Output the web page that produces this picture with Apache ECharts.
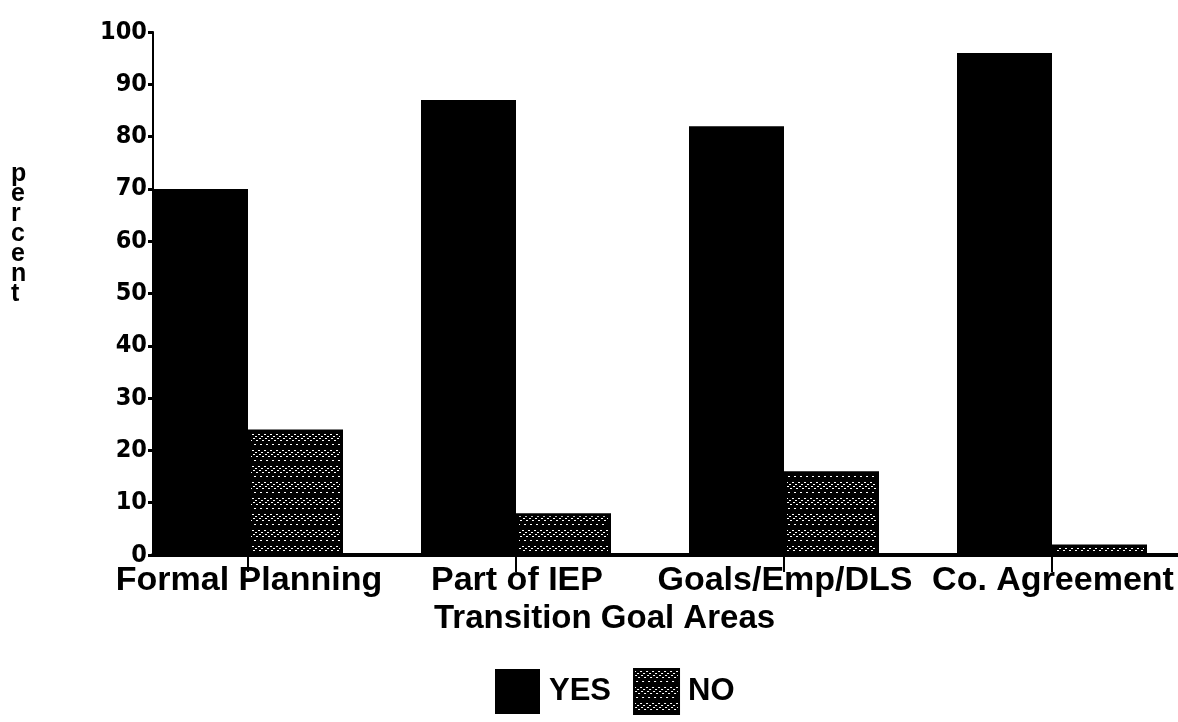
<!DOCTYPE html>
<html>
<head>
<meta charset="utf-8">
<title>Transition Goal Areas</title>
<script src="https://cdn.jsdelivr.net/npm/echarts@6/dist/echarts.min.js"></script>
<style>
  html, body { margin: 0; padding: 0; background: #fff; }
  #chart { width: 1178px; height: 722px; }
</style>
</head>
<body>
<div id="chart"></div>
<script>
// data
var categories = ['Formal Planning', 'Part of IEP', 'Goals/Emp/DLS', 'Co. Agreement'];
var yesValues = [70, 87, 82, 96];
var noValues = [24, 8, 16, 2];
var blankValues = [0, 0, 0, 0]; // empty third slot in every group
var seriesNames = ['YES', 'NO'];

var labelFont = 'Liberation Sans';
var digitFont = "'DejaVu Sans Condensed', sans-serif";
var yesBarWidth = 95;

// sparse dithered fill of the NO bars
function makeHatch() {
    var c = document.createElement('canvas');
    c.width = 12;
    c.height = 16;
    var g = c.getContext('2d');
    g.fillStyle = '#000';
    g.fillRect(0, 0, 12, 16);
    g.fillStyle = '#fff';
    var dots = [[0, 2], [6, 2], [3, 4], [9, 4], [1, 6], [7, 6], [4, 8], [10, 8],
                [2, 12], [8, 12]];
    dots.forEach(function (d) { g.fillRect(d[0], d[1], 2, 1); });
    return c;
}
var hatch = { image: makeHatch(), repeat: 'repeat' };

var chart = echarts.init(document.getElementById('chart'));
chart.setOption({
    animation: false,
    backgroundColor: '#fff',
    grid: { left: 153, right: -47, top: 32, bottom: 167, outerBoundsMode: 'none' },
    legend: {
        data: seriesNames,
        left: 490,
        bottom: 2,
        itemWidth: 45,
        itemHeight: 45,
        itemGap: 22,
        icon: 'rect',
        textStyle: { fontFamily: labelFont, fontWeight: 'bold', fontSize: 31, color: '#000', padding: [0, 0, 0, 4] }
    },
    graphic: [
        {
            type: 'text', left: 11, top: 162,
            style: {
                text: 'p\ne\nr\nc\ne\nn\nt',
                font: 'bold 25px ' + labelFont,
                lineHeight: 20,
                align: 'center',
                fill: '#000'
            }
        },
        {
            type: 'text', left: 434, top: 602,
            style: {
                text: 'Transition Goal Areas',
                font: 'bold 33px ' + labelFont,
                fill: '#000'
            }
        }
    ],
    xAxis: {
        type: 'category',
        data: categories,
        axisLine: { lineStyle: { color: '#000', width: 4 } },
        axisTick: { show: false },
        axisLabel: {
            color: '#000',
            fontFamily: labelFont,
            fontWeight: 'bold',
            fontSize: 34,
            margin: 9,
            padding: [0, 76, 0, 0],
            interval: 0
        },
        splitLine: { show: false }
    },
    yAxis: {
        type: 'value',
        min: 0,
        max: 100,
        interval: 10,
        axisLine: { show: true, lineStyle: { color: '#000', width: 2 } },
        axisTick: { show: true, length: 5, lineStyle: { color: '#000', width: 3 } },
        axisLabel: {
            color: '#000',
            fontFamily: digitFont,
            fontWeight: 'bold',
            fontSize: 25,
            margin: 6
        },
        splitLine: { show: false }
    },
    series: [
        {
            name: 'YES',
            type: 'bar',
            data: yesValues,
            barWidth: yesBarWidth,
            itemStyle: { color: '#000' }
        },
        {
            name: 'NO',
            type: 'bar',
            data: noValues,
            barWidth: 95,
            itemStyle: { color: hatch, borderColor: '#000', borderWidth: 3 }
        },
        {
            name: 'blank',
            type: 'bar',
            data: blankValues,
            barWidth: 78,
            barGap: '0%',
            barCategoryGap: 0,
            silent: true,
            itemStyle: { color: 'rgba(0,0,0,0)' }
        },
        {
            // category ticks sit at the YES/NO boundary
            name: 'ticks',
            type: 'custom',
            silent: true,
            clip: false,
            z: 5,
            data: categories.map(function (c, i) { return [i, 0]; }),
            renderItem: function (params, api) {
                var p = api.coord([api.value(0), 0]);
                var band = api.size([1, 0])[0];
                var x = p[0] - band / 2 + yesBarWidth;
                return {
                    type: 'line',
                    shape: { x1: x, y1: p[1], x2: x, y2: p[1] + 17 },
                    style: { stroke: '#000', lineWidth: 2 }
                };
            }
        }
    ]
});
</script>
</body>
</html>
